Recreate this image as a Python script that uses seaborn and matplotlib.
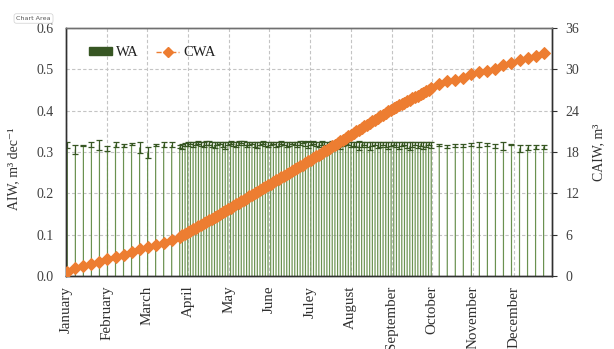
import matplotlib
matplotlib.use("Agg")
import matplotlib.pyplot as plt
import seaborn as sns
import pandas as pd
from matplotlib.patches import Patch
from matplotlib.lines import Line2D

# ---------------------------------------------------------------- data
months = ["January", "February", "March", "April", "May", "June",
          "Juley", "August", "September", "October", "November", "December"]

# sampling days (day of year)
days_early = [1, 7, 13, 19, 25, 31, 37, 43, 49, 55, 61, 67, 73, 79, 85]
days_mid = list(range(87, 274, 2))
days_late = [279, 285, 291, 297, 303, 309, 315, 321, 327, 333, 339, 345, 351, 357]

# WA: applied irrigation water per decade, m3 dec-1
wa_early = [0.317, 0.306, 0.316, 0.319, 0.317, 0.309, 0.318, 0.316, 0.319, 0.311,
            0.299, 0.317, 0.318, 0.317, 0.313]
wa_mid = [0.314, 0.318, 0.320, 0.322, 0.319, 0.321, 0.323, 0.320, 0.318, 0.322,
          0.321, 0.319, 0.317, 0.320, 0.322, 0.318, 0.316, 0.321, 0.323, 0.320,
          0.319, 0.322, 0.324, 0.321, 0.318, 0.320, 0.322, 0.319, 0.317, 0.321,
          0.323, 0.320, 0.318, 0.321, 0.322, 0.319, 0.320, 0.323, 0.321, 0.318,
          0.320, 0.322, 0.321, 0.319, 0.322, 0.324, 0.320, 0.318, 0.321, 0.323,
          0.320, 0.319, 0.322, 0.321, 0.318, 0.320, 0.323, 0.321, 0.319, 0.317,
          0.320, 0.322, 0.321, 0.318, 0.320, 0.319, 0.316, 0.319, 0.321, 0.318,
          0.315, 0.319, 0.320, 0.317, 0.319, 0.321, 0.318, 0.316, 0.319, 0.320,
          0.318, 0.316, 0.319, 0.321, 0.317, 0.315, 0.318, 0.320, 0.317, 0.319,
          0.316, 0.318, 0.320, 0.317]
wa_late = [0.317, 0.313, 0.316, 0.316, 0.318, 0.318, 0.318, 0.314, 0.314, 0.318,
           0.309, 0.311, 0.313, 0.313]

# WA standard deviation
sd_early = [0.008, 0.011, 0.002, 0.006, 0.011, 0.006, 0.005, 0.003, 0.003, 0.013,
            0.014, 0.002, 0.005, 0.006, 0.004]
sd_mid = [0.006, 0.004, 0.005, 0.003, 0.006, 0.004, 0.003, 0.005, 0.007, 0.004,
          0.005, 0.006, 0.008, 0.004, 0.003, 0.006, 0.009, 0.004, 0.003, 0.005,
          0.006, 0.004, 0.003, 0.005, 0.007, 0.004, 0.003, 0.006, 0.008, 0.004,
          0.003, 0.005, 0.007, 0.004, 0.003, 0.006, 0.005, 0.003, 0.004, 0.007,
          0.005, 0.003, 0.004, 0.006, 0.004, 0.003, 0.005, 0.008, 0.004, 0.003,
          0.005, 0.006, 0.004, 0.003, 0.007, 0.005, 0.003, 0.004, 0.006, 0.009,
          0.005, 0.003, 0.004, 0.007, 0.005, 0.006, 0.010, 0.006, 0.004, 0.007,
          0.009, 0.005, 0.004, 0.008, 0.006, 0.004, 0.007, 0.009, 0.005, 0.004,
          0.007, 0.009, 0.005, 0.004, 0.008, 0.010, 0.006, 0.004, 0.008, 0.005,
          0.009, 0.006, 0.004, 0.007]
sd_late = [0.003, 0.004, 0.003, 0.004, 0.004, 0.006, 0.004, 0.005, 0.009, 0.002,
           0.008, 0.006, 0.005, 0.005]

# CWA: cumulative applied water, m3
cwa_early = [0.62, 1.10, 1.48, 1.72, 2.08, 2.50, 2.80, 3.07, 3.43, 3.90,
             4.24, 4.48, 4.83, 5.28, 5.70]
cwa_mid = [5.91, 6.11, 6.32, 6.54, 6.77, 6.99, 7.21, 7.44, 7.66, 7.89,
           8.11, 8.33, 8.56, 8.78, 9.00, 9.23, 9.45, 9.68, 9.91, 10.14,
           10.38, 10.61, 10.85, 11.08, 11.31, 11.55, 11.78, 12.01, 12.25, 12.48,
           12.71, 12.95, 13.18, 13.41, 13.64, 13.87, 14.10, 14.33, 14.56, 14.79,
           15.02, 15.25, 15.48, 15.71, 15.94, 16.17, 16.40, 16.63, 16.86, 17.10,
           17.35, 17.59, 17.83, 18.08, 18.32, 18.56, 18.81, 19.05, 19.29, 19.54,
           19.78, 20.02, 20.27, 20.51, 20.75, 21.00, 21.24, 21.48, 21.73, 21.97,
           22.21, 22.46, 22.70, 22.94, 23.19, 23.43, 23.67, 23.92, 24.16, 24.37,
           24.57, 24.78, 24.98, 25.18, 25.39, 25.59, 25.79, 26.00, 26.20, 26.40,
           26.61, 26.81, 27.01, 27.22]
cwa_late = [27.90, 28.30, 28.50, 28.80, 29.30, 29.60, 29.80, 30.10, 30.60, 30.90,
            31.30, 31.60, 31.90, 32.30]

df = pd.DataFrame({
    "day": days_early + days_mid + days_late,
    "WA": wa_early + wa_mid + wa_late,
    "SD": sd_early + sd_mid + sd_late,
    "CWA": cwa_early + cwa_mid + cwa_late,
})

# ---------------------------------------------------------------- style
sns.set_theme(style="white")
plt.rcParams["font.family"] = ["Liberation Serif", "DejaVu Serif"]

GREEN = "#375623"
BAR_GREEN = "#6a9150"
ORANGE = "#ED7D31"
TXT = "#404040"
GRID = "#c4c4c4"

fig = plt.figure(figsize=(6.14, 3.49), dpi=100)
ax = fig.add_axes([0.1075, 0.2092, 0.7920, 0.7106])

# bars of WA on a native (day) scale
sns.barplot(data=df, x="day", y="WA", native_scale=True, width=0.45,
            color=BAR_GREEN, saturation=1, errorbar=None, ax=ax, zorder=2)
for bar in ax.patches:
    bar.set_snap(False)
    bar.set_antialiased(True)
    bar.set_linewidth(0)
ax.errorbar(df["day"], df["WA"], yerr=df["SD"], fmt="none", ecolor=GREEN,
            elinewidth=0.9, capsize=2.2, capthick=0.9, zorder=3)

month_len = 365 / 12
ax.set_xlim(0, 363.5)
ax.set_xticks([i * month_len for i in range(12)])
ax.set_xticklabels(months, rotation=90, va="top", ha="center",
                   fontsize=10.8, color="#303030")
ax.set_ylim(0, 0.6)
ax.set_yticks([0.0, 0.1, 0.2, 0.3, 0.4, 0.5, 0.6])
ax.set_yticklabels(["0.0", "0.1", "0.2", "0.3", "0.4", "0.5", "0.6"])
ax.tick_params(axis="x", length=0, pad=7)
ax.tick_params(axis="y", length=0, pad=9, labelsize=10, labelcolor=TXT)
ax.set_xlabel("")
ax.set_ylabel("AIW, m³ dec⁻¹", fontsize=10, color="#303030")
ax.yaxis.set_label_coords(-0.0946, 0.431)
ax.set_axisbelow(True)
ax.grid(True, linestyle=(0, (3, 2)), color=GRID, linewidth=0.8)

# cumulative line on the secondary axis
ax2 = ax.twinx()
sns.lineplot(data=df, x="day", y="CWA", ax=ax2, color=ORANGE, marker="D",
             markersize=6.2, markeredgecolor=ORANGE, linestyle="--",
             linewidth=1.0, zorder=4)
ax2.set_ylim(0, 36)
ax2.set_yticks([0, 6, 12, 18, 24, 30, 36])
ax2.tick_params(axis="y", right=True, length=3.5, width=0.8, pad=6,
                labelsize=10, labelcolor=TXT, color="#303030")
ax2.set_ylabel("CAIW, m³", fontsize=10, color="#303030", rotation=90)
ax2.yaxis.set_label_coords(1.082, 0.50)
ax2.grid(False)
ax2.set_xlim(0, 363.5)

for a in (ax, ax2):
    for s in a.spines.values():
        s.set_color("#303030")
        s.set_linewidth(1.0)
    a.spines["top"].set_color("#707070")

handles = [Patch(facecolor=GREEN, edgecolor=GREEN),
           Line2D([], [], color=ORANGE, linestyle="--", marker="D",
                  markersize=5, linewidth=1.0)]
ax2.legend(handles, ["WA", "CWA"], loc="upper left", ncol=2, frameon=False,
           bbox_to_anchor=(0.035, 0.95), borderaxespad=0, fontsize=10.5,
           handlelength=1.6, handleheight=0.45, handletextpad=0.25,
           columnspacing=1.2, labelcolor="#202020")

fig.text(0.0546, 0.947, "Chart Area", fontsize=4.6, family="DejaVu Sans",
         color="#555555", ha="center", va="center", zorder=10,
         bbox=dict(boxstyle="round,pad=0.35", fc="white", ec="#d0d0d0", lw=0.5))

fig.savefig("out.png", dpi=100)
